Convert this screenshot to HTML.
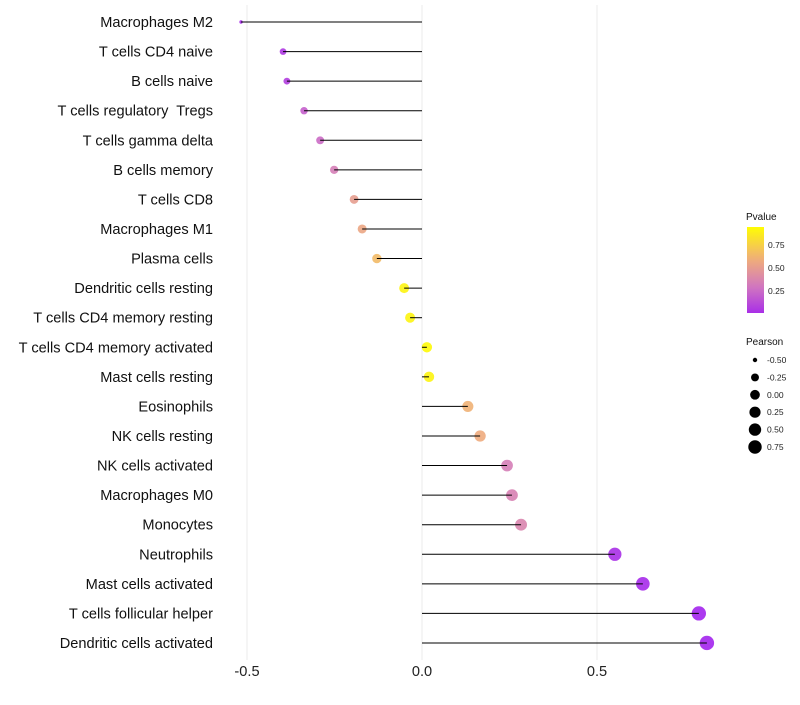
<!DOCTYPE html>
<html><head><meta charset="utf-8"><style>
body{margin:0;background:#fff;font-family:"Liberation Sans",sans-serif}
text{white-space:pre}
</style></head><body>
<svg id="chart" width="800" height="700" xmlns="http://www.w3.org/2000/svg">
<g id="grid"></g><g id="marks"></g><g id="labels"></g><g id="legend"></g>
</svg>
<script>
const categories=["Macrophages M2","T cells CD4 naive","B cells naive","T cells regulatory  Tregs","T cells gamma delta","B cells memory","T cells CD8","Macrophages M1","Plasma cells","Dendritic cells resting","T cells CD4 memory resting","T cells CD4 memory activated","Mast cells resting","Eosinophils","NK cells resting","NK cells activated","Macrophages M0","Monocytes","Neutrophils","Mast cells activated","T cells follicular helper","Dendritic cells activated"];
const pearson=[-0.517,-0.397,-0.386,-0.337,-0.291,-0.251,-0.194,-0.171,-0.129,-0.051,-0.034,0.014,0.02,0.131,0.166,0.243,0.257,0.283,0.551,0.631,0.791,0.814];
const pvalue=[0.04,0.1,0.12,0.25,0.3,0.38,0.55,0.6,0.7,0.95,0.95,0.98,0.95,0.66,0.63,0.38,0.4,0.42,0.06,0.04,0.02,0.02];
const xTicks=[-0.5,0,0.5];
const pTicks=[0.25,0.5,0.75];
const sizeTicks=[-0.5,-0.25,0,0.25,0.5,0.75];
const NS="http://www.w3.org/2000/svg";
const x=v=>422+v*350;
const y=i=>22+i*29.57;
function rad(v){const t=Math.max(0,(v+0.517)/1.331);return 1.7+5.5*Math.sqrt(t);}
function lerp(a,b,t){return a.map((c,i)=>Math.round(c+(b[i]-c)*t));}
function col(p){const stops=[[0,[160,32,240]],[0.35,[210,120,190]],[0.65,[240,175,120]],[1,[255,255,0]]];
for(let i=1;i<stops.length;i++){if(p<=stops[i][0]){const t=(p-stops[i-1][0])/(stops[i][0]-stops[i-1][0]);return "rgb("+lerp(stops[i-1][1],stops[i][1],t).join(",")+")";}}return "rgb(255,255,0)";}
function mk(tag,attrs,parent,text){const e=document.createElementNS(NS,tag);for(const k in attrs)e.setAttribute(k,attrs[k]);if(text!==undefined)e.textContent=text;document.getElementById(parent).appendChild(e);return e;}
xTicks.forEach(t=>{
 const g=mk("line",{x1:x(t),x2:x(t),y1:5,y2:660,stroke:"#ebebeb","stroke-width":1},"grid");
 
 
 const l=mk("text",{x:x(t),y:676,"text-anchor":"middle","font-size":"14.6",fill:"#222"},"labels",t===0?"0.0":String(t));
 
 
});
categories.forEach((c,i)=>{
 const l=mk("text",{x:213,y:y(i)+5,"text-anchor":"end","font-size":"14.6",fill:"#111"},"labels",c);
 
 
 const d=mk("circle",{cx:x(pearson[i]),cy:y(i),r:rad(pearson[i]),fill:col(pvalue[i]),"fill-opacity":0.9},"marks");
 
 
 const s=mk("line",{x1:x(0),x2:x(pearson[i]),y1:y(i),y2:y(i),stroke:"#000","stroke-width":1},"marks");
 
 
});
const defs=mk("defs",{},"legend");
const lg=document.createElementNS(NS,"linearGradient");lg.setAttribute("id","cg");lg.setAttribute("x1","0");lg.setAttribute("y1","1");lg.setAttribute("x2","0");lg.setAttribute("y2","0");defs.appendChild(lg);
for(let k=0;k<=10;k++){const st=document.createElementNS(NS,"stop");const p=0.06+k/10*(0.99-0.06);st.setAttribute("offset",k/10);st.setAttribute("stop-color",col(p));lg.appendChild(st);}
const pt=mk("text",{x:746,y:220,"font-size":"10",fill:"#111"},"legend","Pvalue");

const cb=mk("rect",{x:747,y:227,width:17,height:86,fill:"url(#cg)"},"legend");

const py=p=>291-(p-0.25)/0.25*23;
pTicks.forEach(p=>{
 const t=mk("text",{x:768,y:py(p)+3,"font-size":"8.5",fill:"#222"},"legend",p.toFixed(2));
 
});
const st=mk("text",{x:746,y:345,"font-size":"10",fill:"#111"},"legend","Pearson");

sizeTicks.forEach((v,k)=>{
 const cy=360+k*17.4;
 const c=mk("circle",{cx:755,cy:cy,r:rad(v)*0.95,fill:"#000"},"legend");
 
 const t=mk("text",{x:767,y:cy+3,"font-size":"8.5",fill:"#222"},"legend",v.toFixed(2));
 
});
</script>
</body></html>
